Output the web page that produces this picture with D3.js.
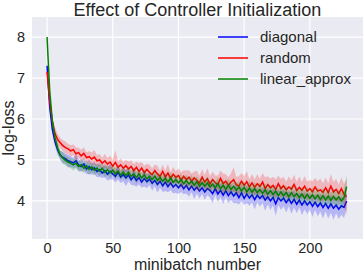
<!DOCTYPE html>
<html>
<head>
<meta charset="utf-8">
<script src="https://cdn.jsdelivr.net/npm/d3@7"></script>
<style>
  body { margin: 0; background: #fff; }
  svg text { font-family: "Liberation Sans", Arial, sans-serif; fill: #262626; }
</style>
</head>
<body>
<div id="chart"></div>
<script>
// minibatch index of each sample = i * step
var step = 2

var seriesNames = ["diagonal", "random", "linear_approx"]
var seriesColors = ["#0000ff", "#ff0000", "#008000"]

var diagonal = [7.3, 6.3, 5.75, 5.45, 5.25, 5.12, 5.06, 5.03, 4.98, 4.96,
  4.93, 4.98, 4.88, 4.84, 4.9, 4.78, 4.84, 4.76, 4.81, 4.72,
  4.76, 4.68, 4.74, 4.65, 4.72, 4.66, 4.6, 4.7, 4.58, 4.64,
  4.56, 4.63, 4.52, 4.6, 4.5, 4.57, 4.46, 4.55, 4.47, 4.53,
  4.43, 4.5, 4.4, 4.48, 4.37, 4.46, 4.35, 4.44, 4.34, 4.4,
  4.32, 4.4, 4.3, 4.38, 4.27, 4.36, 4.26, 4.34, 4.24, 4.32,
  4.22, 4.3, 4.26, 4.18, 4.3, 4.17, 4.26, 4.14, 4.25, 4.13,
  4.22, 4.12, 4.2, 4.08, 4.2, 4.06, 4.17, 4.07, 4.15, 4.03,
  4.14, 4.06, 4.13, 4.02, 4.1, 4.0, 4.09, 3.93, 4.08, 4.0,
  4.07, 3.96, 4.05, 3.94, 4.04, 3.92, 4.02, 3.9, 4.0, 3.9,
  3.98, 3.87, 3.97, 3.86, 3.95, 3.84, 3.94, 3.82, 3.93, 3.82,
  3.9, 3.8, 3.88, 3.84, 4.0]
var random = [7.15, 6.45, 5.95, 5.65, 5.5, 5.42, 5.35, 5.3, 5.27, 5.22,
  5.25, 5.15, 5.18, 5.1, 5.16, 5.06, 5.08, 5.02, 5.07, 4.98,
  5.0, 4.92, 4.98, 4.9, 4.95, 4.85, 4.94, 4.82, 4.88, 4.8,
  4.86, 4.78, 4.84, 4.74, 4.82, 4.72, 4.8, 4.69, 4.77, 4.7,
  4.64, 4.74, 4.66, 4.6, 4.72, 4.58, 4.68, 4.55, 4.65, 4.57,
  4.62, 4.5, 4.6, 4.52, 4.58, 4.48, 4.56, 4.5, 4.44, 4.58,
  4.46, 4.54, 4.42, 4.52, 4.45, 4.4, 4.55, 4.42, 4.48, 4.38,
  4.46, 4.52, 4.4, 4.36, 4.48, 4.38, 4.47, 4.34, 4.44, 4.33,
  4.42, 4.35, 4.46, 4.3, 4.4, 4.32, 4.38, 4.28, 4.42, 4.3,
  4.37, 4.27, 4.34, 4.29, 4.4, 4.25, 4.33, 4.26, 4.36, 4.24,
  4.3, 4.22, 4.34, 4.24, 4.27, 4.21, 4.32, 4.2, 4.36, 4.22,
  4.28, 4.18, 4.3, 4.16, 4.1]
var linear_approx = [8.0, 6.7, 5.95, 5.55, 5.3, 5.12, 5.05, 4.99, 4.95, 4.92,
  4.88, 4.92, 4.84, 4.88, 4.8, 4.86, 4.77, 4.83, 4.75, 4.8,
  4.73, 4.8, 4.7, 4.76, 4.69, 4.75, 4.66, 4.73, 4.63, 4.7,
  4.62, 4.7, 4.6, 4.66, 4.57, 4.66, 4.56, 4.64, 4.54, 4.6,
  4.52, 4.6, 4.5, 4.57, 4.48, 4.55, 4.46, 4.56, 4.45, 4.52,
  4.44, 4.52, 4.42, 4.5, 4.41, 4.48, 4.38, 4.47, 4.36, 4.45,
  4.36, 4.44, 4.34, 4.41, 4.32, 4.42, 4.3, 4.38, 4.28, 4.38,
  4.28, 4.36, 4.26, 4.34, 4.24, 4.33, 4.22, 4.31, 4.21, 4.3,
  4.2, 4.28, 4.18, 4.27, 4.16, 4.25, 4.15, 4.24, 4.13, 4.22,
  4.12, 4.21, 4.1, 4.2, 4.1, 4.18, 4.08, 4.17, 4.06, 4.16,
  4.06, 4.15, 4.05, 4.14, 4.03, 4.13, 4.02, 4.12, 4.01, 4.11,
  4.02, 4.1, 4.0, 4.08, 4.35]

// half width of the shaded band round each line
var diagonalSpread = [0.05, 0.08, 0.1, 0.12, 0.12, 0.1, 0.14, 0.12, 0.15, 0.13,
  0.12, 0.16, 0.14, 0.12, 0.15, 0.13, 0.18, 0.12, 0.15, 0.14,
  0.17, 0.12, 0.16, 0.15, 0.2, 0.13, 0.15, 0.18, 0.14, 0.16,
  0.2, 0.15, 0.13, 0.22, 0.15, 0.17, 0.14, 0.2, 0.16, 0.15,
  0.18, 0.14, 0.2, 0.16, 0.15, 0.22, 0.14, 0.18, 0.16, 0.2,
  0.15, 0.18, 0.14, 0.2, 0.17, 0.15, 0.22, 0.16, 0.18, 0.15,
  0.2, 0.16, 0.18, 0.24, 0.15, 0.2, 0.17, 0.22, 0.16, 0.19,
  0.2, 0.18, 0.25, 0.17, 0.2, 0.16, 0.22, 0.19, 0.18, 0.24,
  0.17, 0.2, 0.18, 0.26, 0.19, 0.22, 0.2, 0.3, 0.18, 0.22,
  0.2, 0.24, 0.18, 0.26, 0.2, 0.22, 0.19, 0.25, 0.21, 0.22,
  0.2, 0.26, 0.19, 0.24, 0.21, 0.27, 0.2, 0.25, 0.22, 0.28,
  0.2, 0.24, 0.22, 0.26, 0.2]
var randomSpread = [0.05, 0.1, 0.12, 0.15, 0.14, 0.12, 0.13, 0.15, 0.12, 0.14,
  0.13, 0.16, 0.12, 0.14, 0.15, 0.13, 0.14, 0.16, 0.18, 0.14,
  0.15, 0.13, 0.17, 0.14, 0.16, 0.15, 0.3, 0.14, 0.16, 0.15,
  0.14, 0.18, 0.15, 0.16, 0.14, 0.2, 0.15, 0.17, 0.14, 0.18,
  0.16, 0.15, 0.2, 0.14, 0.17, 0.16, 0.22, 0.15, 0.18, 0.16,
  0.17, 0.2, 0.15, 0.22, 0.17, 0.19, 0.16, 0.24, 0.18, 0.2,
  0.17, 0.26, 0.18, 0.2, 0.17, 0.22, 0.19, 0.25, 0.18, 0.2,
  0.22, 0.3, 0.19, 0.24, 0.2, 0.22, 0.26, 0.19, 0.22, 0.2,
  0.24, 0.2, 0.22, 0.28, 0.2, 0.23, 0.21, 0.25, 0.2, 0.24,
  0.22, 0.2, 0.26, 0.21, 0.24, 0.22, 0.27, 0.2, 0.25, 0.23,
  0.21, 0.26, 0.22, 0.24, 0.28, 0.22, 0.25, 0.23, 0.3, 0.24,
  0.26, 0.22, 0.28, 0.25, 0.45]
var linearSpread = [0.06, 0.1, 0.12, 0.12, 0.13, 0.12, 0.14, 0.12, 0.13, 0.12,
  0.14, 0.12, 0.13, 0.15, 0.12, 0.13, 0.14, 0.12, 0.13, 0.12,
  0.14, 0.12, 0.13, 0.12, 0.14, 0.12, 0.13, 0.14, 0.12, 0.13,
  0.12, 0.14, 0.13, 0.12, 0.15, 0.13, 0.12, 0.14, 0.13, 0.12,
  0.14, 0.13, 0.15, 0.12, 0.14, 0.13, 0.12, 0.15, 0.13, 0.14,
  0.12, 0.15, 0.13, 0.14, 0.12, 0.16, 0.13, 0.14, 0.15, 0.13,
  0.14, 0.16, 0.13, 0.15, 0.14, 0.16, 0.13, 0.15, 0.14, 0.17,
  0.14, 0.15, 0.16, 0.14, 0.17, 0.15, 0.14, 0.18, 0.15, 0.16,
  0.14, 0.17, 0.15, 0.16, 0.18, 0.15, 0.17, 0.16, 0.15, 0.18,
  0.16, 0.17, 0.15, 0.18, 0.16, 0.17, 0.19, 0.16, 0.18, 0.17,
  0.16, 0.19, 0.17, 0.18, 0.16, 0.19, 0.17, 0.18, 0.2, 0.17,
  0.19, 0.18, 0.2, 0.18, 0.3]

var xTicks = [0, 50, 100, 150, 200]
var yTicks = [4, 5, 6, 7, 8]

var series = [
  {name: seriesNames[0], color: seriesColors[0], values: diagonal, spread: diagonalSpread},
  {name: seriesNames[1], color: seriesColors[1], values: random, spread: randomSpread},
  {name: seriesNames[2], color: seriesColors[2], values: linear_approx, spread: linearSpread}
]

var W = 364, H = 274
var margin = {top: 17, right: 1, bottom: 35, left: 32},
    width = W - margin.left - margin.right,
    height = H - margin.top - margin.bottom

var x = d3.scaleLinear().domain([-11.45, 240.45]).range([0, width])
var y = d3.scaleLinear().domain([3.07, 8.49]).range([height, 0])

var svg = d3.select("#chart").append("svg")
    .attr("width", W)
    .attr("height", H)

var g = svg.append("g")
    .attr("transform", "translate(" + margin.left + "," + margin.top + ")")

g.append("rect")
  .attr("width", width)
  .attr("height", height)
  .attr("fill", "#eaeaf2")

// grid
g.selectAll(".xgrid").data(xTicks).enter().append("line")
  .attr("x1", d => x(d)).attr("x2", d => x(d))
  .attr("y1", 0).attr("y2", height)
  .attr("stroke", "#fff").attr("stroke-width", 1.2)
g.selectAll(".ygrid").data(yTicks).enter().append("line")
  .attr("y1", d => y(d)).attr("y2", d => y(d))
  .attr("x1", 0).attr("x2", width)
  .attr("stroke", "#fff").attr("stroke-width", 1.2)

var area = d3.area()
  .x((d, i) => x(i * step))
  .y0(d => y(d[0] - d[1]))
  .y1(d => y(d[0] + d[1]))
var line = d3.line()
  .x((d, i) => x(i * step))
  .y(d => y(d))

var plot = g.append("g")
series.forEach(function(s) {
  var pairs = s.values.map((v, i) => [v, s.spread[i]])
  plot.append("path")
    .datum(pairs)
    .attr("d", area)
    .attr("fill", s.color)
    .attr("fill-opacity", 0.22)
  plot.append("path")
    .datum(s.values)
    .attr("d", line)
    .attr("fill", "none")
    .attr("stroke", s.color)
    .attr("stroke-width", 1.5)
})

// axes (no domain line, no tick marks, seaborn style)
var xAxis = g.append("g")
  .attr("transform", "translate(0," + height + ")")
  .call(d3.axisBottom(x).tickValues(xTicks).tickSize(0).tickPadding(4))
var yAxis = g.append("g")
  .call(d3.axisLeft(y).tickValues(yTicks).tickFormat(d3.format("d")).tickSize(0).tickPadding(7))
g.selectAll(".domain").remove()
g.selectAll(".tick text")
  .style("font-family", "'Liberation Sans', Arial, sans-serif")
  .style("font-size", "14.5px")
  .attr("fill", "#262626")

svg.append("text")
  .attr("x", margin.left + width / 2)
  .attr("y", 16)
  .style("text-anchor", "middle")
  .style("font-size", "18px")
  .text("Effect of Controller Initialization")

svg.append("text")
  .attr("x", margin.left + width / 2)
  .attr("y", 270)
  .style("text-anchor", "middle")
  .style("font-size", "16px")
  .text("minibatch number")

svg.append("text")
  .attr("transform", "translate(14," + (margin.top + height / 2) + ") rotate(-90)")
  .style("text-anchor", "middle")
  .style("font-size", "16px")
  .text("log-loss")

// legend
var legend = svg.append("g").attr("transform", "translate(218,37)")
series.forEach(function(s, i) {
  legend.append("line")
    .attr("x1", 0).attr("x2", 30)
    .attr("y1", i * 21).attr("y2", i * 21)
    .attr("stroke", s.color).attr("stroke-width", 1.5)
  legend.append("text")
    .attr("x", 42).attr("y", i * 21 + 5)
    .style("font-size", "15px")
    .text(s.name)
})
</script>
</body>
</html>
